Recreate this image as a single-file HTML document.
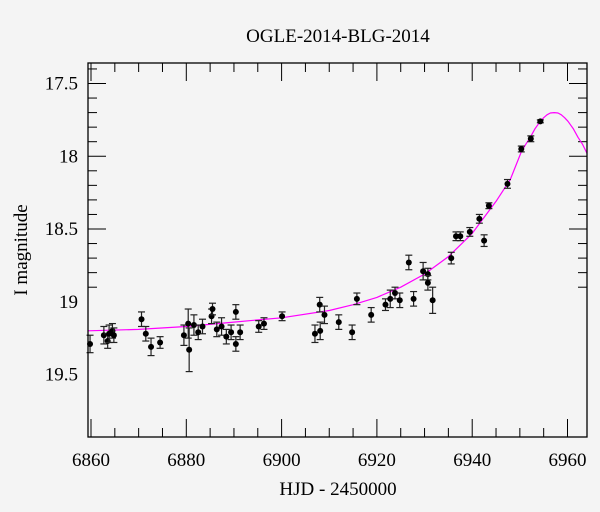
<!DOCTYPE html>
<html><head><meta charset="utf-8"><style>
body{margin:0;background:#f4f4f4;}
svg{display:block;font-family:"Liberation Serif",serif;}
</style></head><body>
<svg id="chart" width="600" height="512" viewBox="0 0 600 512">
<rect width="600" height="512" fill="#f4f4f4"/>
<text x="338" y="42" text-anchor="middle" font-size="19">OGLE-2014-BLG-2014</text>
<text x="338" y="495" text-anchor="middle" font-size="19">HJD - 2450000</text>
<text transform="translate(27,250) rotate(-90)" text-anchor="middle" font-size="19">I magnitude</text>
<g id="ticks"></g><g id="curve"></g><g id="points"></g>
<rect x="88" y="63" width="499" height="374" fill="none" stroke="#000" stroke-width="1.3"/>
</svg>
<script>
const times=[6859.8,6862.7,6863.5,6863.8,6864.5,6864.8,6870.6,6871.5,6872.6,6874.5,6879.5,6880.4,6880.6,6881.6,6882.5,6883.4,6885.3,6885.5,6886.4,6887.4,6888.4,6889.4,6890.4,6890.4,6891.3,6895.2,6896.3,6900.1,6907.0,6908.0,6908.1,6909.0,6912.0,6914.8,6915.8,6918.8,6921.8,6922.8,6923.8,6924.8,6926.7,6927.7,6929.7,6930.7,6930.7,6931.7,6935.6,6936.6,6937.5,6939.5,6941.5,6942.5,6943.5,6947.4,6950.3,6952.3,6954.3];
const mags=[19.29,19.23,19.27,19.22,19.20,19.23,19.12,19.22,19.31,19.28,19.23,19.15,19.33,19.16,19.21,19.17,19.10,19.05,19.19,19.17,19.24,19.21,19.07,19.29,19.21,19.17,19.15,19.10,19.22,19.02,19.20,19.09,19.14,19.21,18.98,19.09,19.02,18.98,18.94,18.99,18.73,18.98,18.79,18.81,18.87,18.99,18.70,18.55,18.55,18.52,18.43,18.58,18.34,18.19,17.95,17.88,17.76];
const errs=[0.06,0.06,0.05,0.06,0.05,0.05,0.05,0.05,0.06,0.04,0.07,0.10,0.15,0.07,0.05,0.05,0.05,0.04,0.05,0.06,0.05,0.05,0.05,0.05,0.05,0.04,0.04,0.03,0.06,0.05,0.06,0.06,0.05,0.05,0.04,0.05,0.04,0.06,0.04,0.05,0.05,0.05,0.06,0.04,0.05,0.09,0.04,0.03,0.03,0.03,0.03,0.04,0.02,0.03,0.02,0.02,0.01];
const modelT=[6859.4,6870,6880,6890,6900,6910,6915,6920,6925,6930,6935,6940,6945,6948,6950.3,6951.2,6952.2,6953.2,6954.3,6955.0,6955.7,6956.4,6957.2,6958.0,6958.7,6959.4,6960.1,6961.2,6962.2,6963.2,6964.1];
const modelM=[19.20,19.19,19.17,19.14,19.11,19.06,19.02,18.97,18.90,18.81,18.69,18.53,18.31,18.16,17.97,17.92,17.87,17.81,17.76,17.735,17.715,17.703,17.70,17.703,17.715,17.735,17.76,17.81,17.87,17.92,17.98];
const xTicks=[6860,6880,6900,6920,6940,6960];
const yTicks=[17.5,18,18.5,19,19.5];
const X=t=>91+(t-6860)*4.765;
const Y=m=>83.5+(m-17.5)*145.5;
const NS="http://www.w3.org/2000/svg";
function mk(tag,attrs,parent){const e=document.createElementNS(NS,tag);for(const k in attrs)e.setAttribute(k,attrs[k]);parent.appendChild(e);return e;}
const tg=document.getElementById('ticks');
for(let t=6860;t<=6964;t+=5){const major=(t%20===0);const L=major?18:9;const x=X(t);
 const a=mk('line',{x1:x,x2:x,y1:437,y2:437-L,stroke:'#000','stroke-width':1},tg);
 
 
 const b=mk('line',{x1:x,x2:x,y1:63,y2:63+L,stroke:'#000','stroke-width':1},tg);
 
 }
xTicks.forEach(t=>{const e=mk('text',{x:X(t),y:466,'text-anchor':'middle','font-size':19},tg);e.textContent=t;
 
 });
for(let i=4;i<=19;i++){const m=17+i*0.1;const major=(i%5===0);const L=major?18:9;const y=Y(m);
 const a=mk('line',{x1:88,x2:88+L,y1:y,y2:y,stroke:'#000','stroke-width':1},tg);
 
 
 const b=mk('line',{x1:587,x2:587-L,y1:y,y2:y,stroke:'#000','stroke-width':1},tg);
 
 }
yTicks.forEach(m=>{const e=mk('text',{x:78,y:Y(m)+6,'text-anchor':'end','font-size':19},tg);e.textContent=String(m);
 
 });
const cg=document.getElementById('curve');
const pl=mk('polyline',{points:modelT.map((t,i)=>X(t).toFixed(1)+','+Y(modelM[i]).toFixed(1)).join(' '),fill:'none',stroke:'#ff00ff','stroke-width':1.2,'stroke-linejoin':'round'},cg);


const pg=document.getElementById('points');
times.forEach((t,i)=>{const x=X(t),y=Y(mags[i]),e=errs[i]*145.5;
 const g=mk('g',{},pg);
 
 
 mk('line',{x1:x,x2:x,y1:y-e,y2:y+e,stroke:'#222','stroke-width':1.2},g);
 mk('line',{x1:x-3.5,x2:x+3.5,y1:y-e,y2:y-e,stroke:'#222','stroke-width':1.2},g);
 mk('line',{x1:x-3.5,x2:x+3.5,y1:y+e,y2:y+e,stroke:'#222','stroke-width':1.2},g);
 mk('circle',{cx:x,cy:y,r:3,fill:'#000'},g);});
</script>
</body></html>
